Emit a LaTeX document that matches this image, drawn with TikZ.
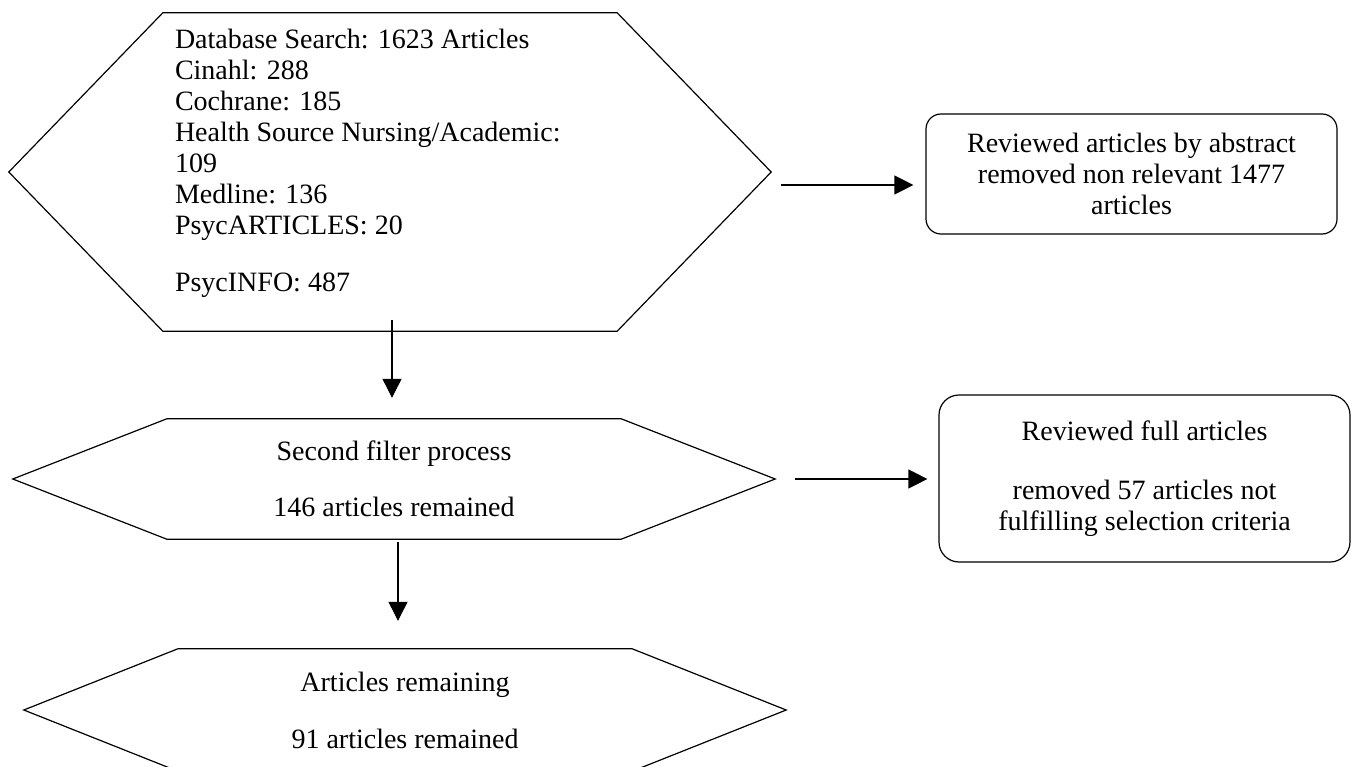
\documentclass[tikz,border=0pt]{standalone}
\usepackage{fontspec}
\setmainfont{Liberation Serif}
\usetikzlibrary{arrows.meta, positioning}

\begin{document}
\begin{tikzpicture}[
	x=1pt, y=-1pt,
	font=\fontsize{28}{31}\selectfont,
	hexcore/.style = {minimum width=454pt, inner sep=0pt, align=center},
	hexline/.style = {line width=1.2pt, line join=miter},
	box/.style = {draw, line width=1.2pt, rounded corners=15pt, minimum width=411pt, align=center},
	arr/.style = {line width=1.2pt, -{Triangle[length=19pt,width=19pt]}}
     ]
		\useasboundingbox (0,0) rectangle (1357,767);
% hexagon cores
		\node (h1) [hexcore, minimum height=318pt] at (390,172) {};
		\node (src) [below right=16pt and 12pt of h1.north west, inner sep=0pt, align=left]
		{Database Search: 1623 Articles\\ Cinahl: 288\\ Cochrane: 185\\
		 Health Source Nursing/Academic:\\ 109\\ Medline: 136\\
		 PsycARTICLES: 20\\[26pt] PsycINFO: 487};
		\node (h2) [hexcore, minimum height=120pt] at (394,479)
		{Second filter process\\[25pt] 146 articles remained};
		\node (h3) [hexcore, minimum height=122pt] at (405,710)
		{Articles remaining\\[26pt] 91 articles remained};
% side boxes
		\node (b1) [box, minimum height=120pt] at (1131.5,174)
		{Reviewed articles by abstract\\ removed non relevant 1477\\ articles};
		\node (b2) [box, rounded corners=20pt, minimum height=167pt] at (1144.5,478.5)
		{Reviewed full articles\\[28pt] removed 57 articles not\\ fulfilling selection criteria};
%
		\foreach \h in {h1,h2,h3}
		\draw[hexline] (\h.north west) -- (\h.north east) -- ([xshift=154pt]\h.east)
		  -- (\h.south east) -- (\h.south west) -- ([xshift=-154pt]\h.west) -- cycle;
%
		\draw[arr] ([xshift=164pt,yshift=-13pt]h1.east) coordinate (r1)
		  -- ([xshift=-12pt]r1 -| b1.west);
		\draw[arr] ([xshift=174pt]h2.east) coordinate (r2)
		  -- ([xshift=-11pt]r2 -| b2.west);
%
		\draw[arr] ([xshift=2pt,yshift=11pt]h1.south) coordinate (d1)
		  -- ([yshift=21pt]d1 |- h2.north);
		\draw[arr] ([xshift=4pt,yshift=-3pt]h2.south) coordinate (d2)
		  -- ([yshift=28pt]d2 |- h3.north);
\end{tikzpicture}
\end{document}
